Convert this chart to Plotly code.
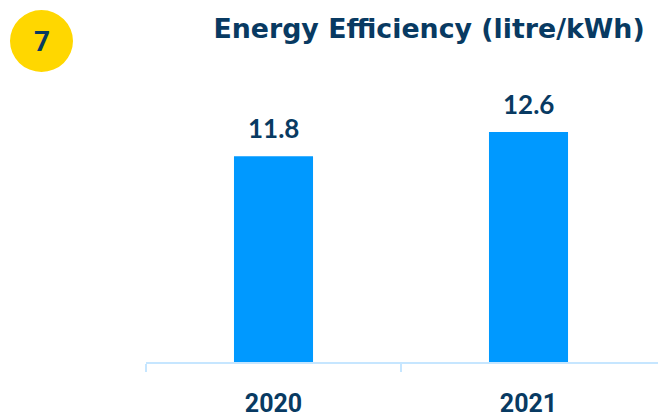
import plotly.graph_objects as go

years = ["2020", "2021"]
values = [11.8, 12.6]
value_labels = ["11.8", "12.6"]
title_text = "Energy Efficiency (litre/kWh)"
badge_text = "7"

NAVY = "#083A62"
BLUE = "#0099FF"
AXIS = "#C6E6FF"
YELLOW = "#FFD700"

# the page body adds an 8px offset, so the figure is drawn 8px smaller
W, H = 658, 410
ML, MR, MT, MB = 138, 0, 92, 47
PW, PH = W - ML - MR, H - MT - MB

fig = go.Figure()
fig.add_trace(go.Bar(
    x=[0, 1], y=values, width=0.31,
    marker=dict(color=BLUE, line=dict(width=0)),
    hoverinfo="skip",
))

for i, (v, t) in enumerate(zip(values, value_labels)):
    fig.add_annotation(x=i, y=v, xref="x", yref="y", text=f"<b>{t}</b>",
                       showarrow=False, yanchor="bottom", yshift=10,
                       font=dict(family="Lato", size=26, color=NAVY))

# badge circle (decoration)
fig.add_shape(type="circle", xref="paper", yref="paper",
              x0=(2 - ML) / PW, x1=(65 - ML) / PW,
              y0=(H - MB - 63) / PH, y1=(H - MB + 1) / PH,
              fillcolor=YELLOW, line=dict(width=0), layer="below")
fig.add_annotation(x=(33.5 - ML) / PW, y=(H - MB - 32) / PH,
                   xref="paper", yref="paper", text=f"<b>{badge_text}</b>",
                   showarrow=False, xanchor="center", yanchor="middle",
                   font=dict(family="Roboto", size=28, color=NAVY))

fig.update_layout(
    width=W, height=H,
    margin=dict(l=ML, r=MR, t=MT, b=MB, pad=0),
    paper_bgcolor="white", plot_bgcolor="white",
    showlegend=False,
    title=dict(text=f"<b>{title_text}</b>", xref="container", yref="container",
               x=421 / W, y=1 - 21 / H, xanchor="center", yanchor="middle",
               font=dict(family="DejaVu Sans", size=26.8, color=NAVY)),
    xaxis=dict(
        range=[-0.5, -0.5 + PW / 255], tickmode="array", tickvals=[0, 1], ticktext=years,
        ticks="", showgrid=False, zeroline=False,
        showline=True, linecolor=AXIS, linewidth=2,
        tickfont=dict(family="Roboto", size=25, color=NAVY, weight="bold"),
        ticklabelstandoff=18,
        minor=dict(tickvals=[-0.5, 0.5], ticks="outside", ticklen=8,
                   tickcolor=AXIS, tickwidth=2, showgrid=False),
        fixedrange=True,
    ),
    yaxis=dict(range=[5, 5 + PH / 31.3], visible=False, fixedrange=True),
)

fig.write_html("out.html")
